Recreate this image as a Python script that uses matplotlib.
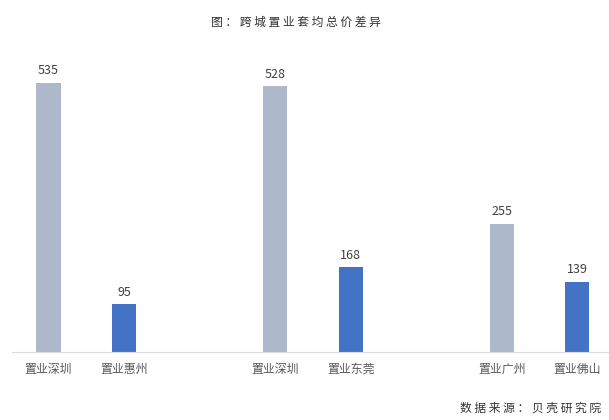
import matplotlib
matplotlib.use("Agg")
import matplotlib.pyplot as plt

plt.rcParams['font.family'] = ['Noto Sans CJK SC', 'DejaVu Sans']

labels = ["置业深圳", "置业惠州", "置业深圳", "置业东莞", "置业广州", "置业佛山"]
values = [535, 95, 528, 168, 255, 139]
positions = [0, 1, 3, 4, 6, 7]
colors = ["#ADB9CA", "#4472C4"] * 3

title = "图：跨城置业套均总价差异"
source = "数据来源：贝壳研究院"

fig = plt.figure(figsize=(6.09, 4.2), dpi=100)
ax = fig.add_axes([12 / 609, 68 / 420, 1 - 12 / 609, 302 / 420])

bars = ax.bar(positions, values, width=0.32, color=colors)
for b, v in zip(bars, values):
    ax.annotate(str(v), (b.get_x() + b.get_width() / 2, v),
                xytext=(0, 4), textcoords="offset points",
                ha="center", va="bottom", fontsize=9, color="#404040")

ax.set_xlim(-0.483, 7.42)
ax.set_ylim(0, 600)
ax.set_xticks(positions)
ax.set_xticklabels(labels, fontsize=8.6, color="#595959")
ax.tick_params(axis="x", length=0, pad=8)
ax.set_yticks([])
for s in ["top", "right", "left"]:
    ax.spines[s].set_visible(False)
ax.spines["bottom"].set_color("#D9D9D9")

# spaced out characters like the original
fig.text(296 / 609, 1 - 22 / 420, " ".join(title), ha="center", va="center",
         fontsize=8.5, color="#333333")
fig.text(601 / 609, 1 - 408 / 420, " ".join(source), ha="right", va="center",
         fontsize=8.5, color="#333333")

fig.savefig("out.png", dpi=100, facecolor="white")
